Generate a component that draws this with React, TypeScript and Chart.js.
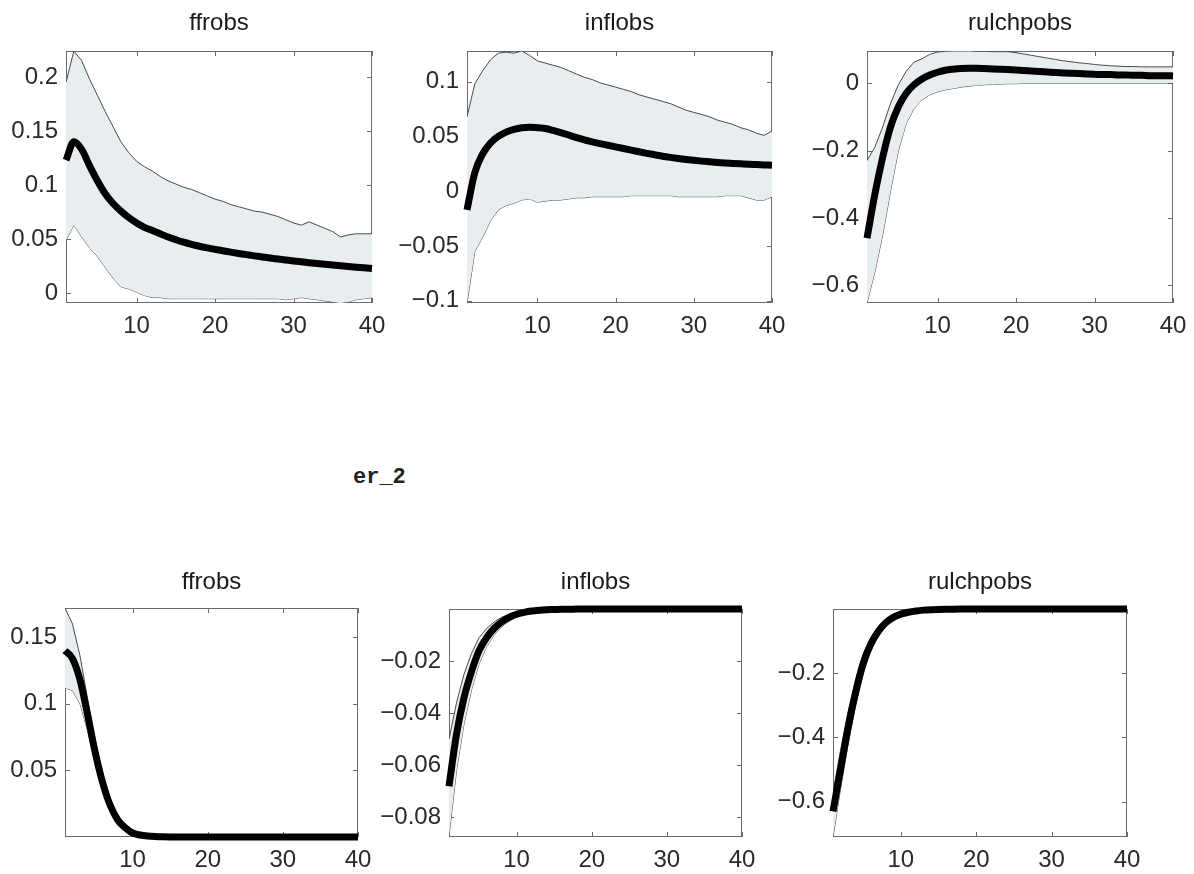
import React, { useEffect, useRef } from "react";
import { Chart, registerables } from "chart.js";

Chart.register(...registerables);

// ---------- data ----------
const periods = [1, 2, 3, 4, 5, 6, 7, 8, 9, 10, 11, 12, 13, 14, 15, 16, 17, 18, 19, 20, 21, 22, 23, 24, 25, 26, 27, 28, 29, 30, 31, 32, 33, 34, 35, 36, 37, 38, 39, 40];
const xTickValues = [10, 20, 30, 40];

// top row (regime 1)
const ffrobsMean1 = [0.123, 0.140, 0.133, 0.118, 0.104, 0.092, 0.083, 0.076, 0.070, 0.065, 0.061, 0.058, 0.055, 0.052, 0.0495, 0.0472, 0.0452, 0.0435, 0.042, 0.0406, 0.0393, 0.038, 0.0368, 0.0357, 0.0346, 0.0336, 0.0326, 0.0317, 0.0308, 0.0299, 0.0291, 0.0283, 0.0275, 0.0268, 0.0261, 0.0254, 0.0247, 0.0241, 0.0235, 0.0229];
const ffrobsUpper1 = [0.195, 0.224, 0.215, 0.198, 0.183, 0.168, 0.154, 0.140, 0.130, 0.122, 0.117, 0.113, 0.108, 0.104, 0.101, 0.098, 0.096, 0.093, 0.090, 0.087, 0.085, 0.082, 0.080, 0.078, 0.076, 0.075, 0.073, 0.071, 0.068, 0.065, 0.063, 0.066, 0.063, 0.060, 0.057, 0.052, 0.054, 0.055, 0.055, 0.055];
const ffrobsLower1 = [0.049, 0.063, 0.052, 0.042, 0.034, 0.024, 0.014, 0.006, 0.004, 0.001, -0.002, -0.004, -0.004, -0.005, -0.005, -0.005, -0.005, -0.005, -0.005, -0.005, -0.005, -0.005, -0.005, -0.005, -0.005, -0.005, -0.005, -0.005, -0.006, -0.005, -0.004, -0.005, -0.006, -0.007, -0.008, -0.009, -0.008, -0.006, -0.005, -0.004];

const inflobsMean1 = [-0.017, 0.017, 0.034, 0.044, 0.050, 0.054, 0.0565, 0.058, 0.0585, 0.058, 0.0572, 0.0555, 0.0535, 0.0513, 0.049, 0.0468, 0.0451, 0.0435, 0.042, 0.0405, 0.039, 0.0375, 0.036, 0.0346, 0.0333, 0.032, 0.0309, 0.0299, 0.029, 0.0282, 0.0275, 0.0269, 0.0263, 0.0258, 0.0254, 0.025, 0.0246, 0.0243, 0.024, 0.0237];
const inflobsUpper1 = [0.068, 0.098, 0.110, 0.120, 0.126, 0.127, 0.126, 0.128, 0.124, 0.119, 0.117, 0.115, 0.113, 0.110, 0.107, 0.104, 0.102, 0.099, 0.097, 0.095, 0.093, 0.091, 0.088, 0.086, 0.084, 0.082, 0.080, 0.077, 0.074, 0.072, 0.070, 0.068, 0.065, 0.063, 0.061, 0.058, 0.056, 0.053, 0.051, 0.055];
const inflobsLower1 = [-0.102, -0.055, -0.042, -0.027, -0.017, -0.013, -0.011, -0.008, -0.007, -0.010, -0.009, -0.008, -0.008, -0.007, -0.006, -0.006, -0.005, -0.005, -0.005, -0.005, -0.005, -0.004, -0.004, -0.004, -0.004, -0.004, -0.004, -0.005, -0.005, -0.005, -0.005, -0.005, -0.005, -0.004, -0.004, -0.004, -0.006, -0.008, -0.008, -0.005];

const rulchpobsMean1 = [-0.46, -0.33, -0.22, -0.13, -0.07, -0.03, -0.005, 0.012, 0.024, 0.032, 0.038, 0.041, 0.043, 0.044, 0.044, 0.043, 0.042, 0.041, 0.040, 0.039, 0.037, 0.036, 0.034, 0.033, 0.031, 0.030, 0.029, 0.028, 0.027, 0.026, 0.025, 0.025, 0.024, 0.024, 0.023, 0.023, 0.022, 0.022, 0.022, 0.021];
const rulchpobsUpper1 = [-0.23, -0.19, -0.13, -0.06, -0.005, 0.035, 0.062, 0.072, 0.085, 0.092, 0.094, 0.095, 0.095, 0.095, 0.094, 0.094, 0.093, 0.093, 0.093, 0.090, 0.086, 0.082, 0.078, 0.074, 0.070, 0.066, 0.063, 0.060, 0.058, 0.055, 0.053, 0.051, 0.050, 0.049, 0.049, 0.048, 0.048, 0.048, 0.048, 0.048];
const rulchpobsLower1 = [-0.652, -0.56, -0.45, -0.32, -0.2, -0.12, -0.075, -0.05, -0.035, -0.026, -0.02, -0.016, -0.012, -0.009, -0.007, -0.005, -0.004, -0.003, -0.002, -0.002, -0.001, 0, 0, 0, 0, 0, 0, 0, 0, 0, 0, 0, 0, 0, 0, 0, 0, 0, 0, 0];

// bottom row (regime 2)
const ffrobsMean2 = [0.140, 0.134, 0.118, 0.092, 0.064, 0.041, 0.024, 0.013, 0.007, 0.003, 0.0015, 0.0007, 0.0003, 0.0001, 0, 0, 0, 0, 0, 0, 0, 0, 0, 0, 0, 0, 0, 0, 0, 0, 0, 0, 0, 0, 0, 0, 0, 0, 0, 0];
const ffrobsUpper2 = [0.172, 0.160, 0.136, 0.104, 0.073, 0.048, 0.029, 0.016, 0.009, 0.004, 0.002, 0.001, 0.0004, 0.0002, 0.0001, 0, 0, 0, 0, 0, 0, 0, 0, 0, 0, 0, 0, 0, 0, 0, 0, 0, 0, 0, 0, 0, 0, 0, 0, 0];
const ffrobsLower2 = [0.112, 0.110, 0.100, 0.080, 0.056, 0.035, 0.020, 0.010, 0.005, 0.002, 0.001, 0.0004, 0.0002, 0.0001, 0, 0, 0, 0, 0, 0, 0, 0, 0, 0, 0, 0, 0, 0, 0, 0, 0, 0, 0, 0, 0, 0, 0, 0, 0, 0];

const inflobsMean2 = [-0.068, -0.048, -0.034, -0.024, -0.016, -0.011, -0.0075, -0.005, -0.0032, -0.002, -0.0013, -0.0008, -0.0005, -0.0003, -0.0002, -0.0001, -0.0001, 0, 0, 0, 0, 0, 0, 0, 0, 0, 0, 0, 0, 0, 0, 0, 0, 0, 0, 0, 0, 0, 0, 0];
const inflobsUpper2 = [-0.050, -0.036, -0.025, -0.017, -0.011, -0.0075, -0.005, -0.0032, -0.002, -0.0013, -0.0008, -0.0005, -0.0003, -0.0002, -0.0001, -0.0001, 0, 0, 0, 0, 0, 0, 0, 0, 0, 0, 0, 0, 0, 0, 0, 0, 0, 0, 0, 0, 0, 0, 0, 0];
const inflobsLower2 = [-0.087, -0.062, -0.044, -0.031, -0.021, -0.0145, -0.010, -0.0068, -0.0046, -0.0031, -0.0021, -0.0014, -0.0009, -0.0006, -0.0004, -0.0003, -0.0002, -0.0001, -0.0001, 0, 0, 0, 0, 0, 0, 0, 0, 0, 0, 0, 0, 0, 0, 0, 0, 0, 0, 0, 0, 0];

const rulchpobsMean2 = [-0.63, -0.50, -0.37, -0.26, -0.17, -0.11, -0.07, -0.043, -0.026, -0.016, -0.01, -0.006, -0.0035, -0.002, -0.0012, -0.0007, -0.0004, -0.0002, -0.0001, 0, 0, 0, 0, 0, 0, 0, 0, 0, 0, 0, 0, 0, 0, 0, 0, 0, 0, 0, 0, 0];
const rulchpobsUpper2 = [-0.57, -0.44, -0.32, -0.22, -0.14, -0.09, -0.056, -0.034, -0.02, -0.012, -0.007, -0.004, -0.0025, -0.0015, -0.0009, -0.0005, -0.0003, -0.0001, 0, 0, 0, 0, 0, 0, 0, 0, 0, 0, 0, 0, 0, 0, 0, 0, 0, 0, 0, 0, 0, 0];
const rulchpobsLower2 = [-0.71, -0.56, -0.42, -0.30, -0.20, -0.13, -0.085, -0.053, -0.033, -0.021, -0.013, -0.008, -0.005, -0.003, -0.0018, -0.0011, -0.0006, -0.0004, -0.0002, -0.0001, 0, 0, 0, 0, 0, 0, 0, 0, 0, 0, 0, 0, 0, 0, 0, 0, 0, 0, 0, 0];

const ffrobsTicks1 = [0, 0.05, 0.1, 0.15, 0.2];
const inflobsTicks1 = [-0.1, -0.05, 0, 0.05, 0.1];
const rulchpobsTicks1 = [-0.6, -0.4, -0.2, 0];
const ffrobsTicks2 = [0.05, 0.1, 0.15];
const inflobsTicks2 = [-0.08, -0.06, -0.04, -0.02];
const rulchpobsTicks2 = [-0.6, -0.4, -0.2];

const shockLabel = "er_2";

// ---------- layout / style ----------
const AXIS_W = 90;
const TOP_PAD = 50;
const RIGHT_PAD = 24;
const BOTTOM_H = 40;
const FONT = "'Liberation Sans', Arial, sans-serif";
const TICK_SIZE = 24;
const TITLE_SIZE = 24;
const BAND_FILL = "#e8edef";
const BAND_LINE = "#4a4a4a";

type Panel = {
  title: string;
  mean: number[];
  upper: number[];
  lower: number[];
  yMin: number;
  yMax: number;
  yTicks: number[];
  box: [number, number, number, number]; // left, top, right, bottom
  titleOffset: number;
};

const panels: Panel[] = [
  { title: "ffrobs", mean: ffrobsMean1, upper: ffrobsUpper1, lower: ffrobsLower1, yMin: -0.009, yMax: 0.224, yTicks: ffrobsTicks1, box: [66, 51, 372, 303], titleOffset: 28 },
  { title: "inflobs", mean: inflobsMean1, upper: inflobsUpper1, lower: inflobsLower1, yMin: -0.102, yMax: 0.128, yTicks: inflobsTicks1, box: [467, 51, 772, 303], titleOffset: 28 },
  { title: "rulchpobs", mean: rulchpobsMean1, upper: rulchpobsUpper1, lower: rulchpobsLower1, yMin: -0.652, yMax: 0.095, yTicks: rulchpobsTicks1, box: [867, 51, 1173, 303], titleOffset: 28 },
  { title: "ffrobs", mean: ffrobsMean2, upper: ffrobsUpper2, lower: ffrobsLower2, yMin: 0, yMax: 0.172, yTicks: ffrobsTicks2, box: [65, 608, 358, 837], titleOffset: 26 },
  { title: "inflobs", mean: inflobsMean2, upper: inflobsUpper2, lower: inflobsLower2, yMin: -0.0875, yMax: 0, yTicks: inflobsTicks2, box: [449, 609, 742, 837], titleOffset: 27 },
  { title: "rulchpobs", mean: rulchpobsMean2, upper: rulchpobsUpper2, lower: rulchpobsLower2, yMin: -0.71, yMax: 0, yTicks: rulchpobsTicks2, box: [833, 609, 1127, 837], titleOffset: 27 },
];

const fmt = (v: number) => {
  const r = Math.round(v * 10000) / 10000;
  return String(r).replace("-", "\u2212");
};

const framePlugin = {
  id: "matlabFrame",
  beforeDatasetsDraw(chart: any) {
    const { ctx, chartArea: a, scales } = chart;
    ctx.save();
    ctx.strokeStyle = "#6a6a6a";
    ctx.lineWidth = 1;
    ctx.strokeRect(a.left + 0.5, a.top + 0.5, a.right - a.left - 1, a.bottom - a.top - 1);
    const len = 5;
    ctx.beginPath();
    scales.x.ticks.forEach((t: any) => {
      const px = Math.round(scales.x.getPixelForValue(t.value)) + 0.5;
      ctx.moveTo(px, a.bottom);
      ctx.lineTo(px, a.bottom - len);
      ctx.moveTo(px, a.top);
      ctx.lineTo(px, a.top + len);
    });
    scales.y.ticks.forEach((t: any) => {
      const py = Math.round(scales.y.getPixelForValue(t.value)) + 0.5;
      ctx.moveTo(a.left, py);
      ctx.lineTo(a.left + len, py);
      ctx.moveTo(a.right, py);
      ctx.lineTo(a.right - len, py);
    });
    ctx.stroke();
    ctx.restore();
  },
  afterDraw(chart: any, _args: any, opts: any) {
    const { ctx, chartArea: a } = chart;
    ctx.save();
    ctx.font = `${TITLE_SIZE}px ${FONT}`;
    ctx.fillStyle = "#1a1a1a";
    ctx.textAlign = "center";
    ctx.textBaseline = "middle";
    ctx.fillText(opts.title, (a.left + a.right) / 2, a.top - opts.offset);
    ctx.restore();
  },
};

function PanelChart({ p }: { p: Panel }) {
  const ref = useRef<HTMLCanvasElement>(null);
  const [l, t, r, b] = p.box;
  const width = r - l + AXIS_W + RIGHT_PAD;
  const height = b - t + TOP_PAD + BOTTOM_H;

  useEffect(() => {
    if (!ref.current) return;
    const toPts = (arr: number[]) => periods.map((x, i) => ({ x, y: arr[i] }));
    const chart = new Chart(ref.current, {
      type: "line",
      data: {
        datasets: [
          { label: "mean", data: toPts(p.mean), borderColor: "#000", borderWidth: 7, fill: false, pointRadius: 0, cubicInterpolationMode: "monotone", clip: false as any },
          { label: "upper", data: toPts(p.upper), borderColor: BAND_LINE, borderWidth: 1, backgroundColor: BAND_FILL, fill: "+1", pointRadius: 0, tension: 0 },
          { label: "lower", data: toPts(p.lower), borderColor: BAND_LINE, borderWidth: 1, fill: false, pointRadius: 0, tension: 0 },
        ],
      },
      options: {
        animation: false,
        responsive: false,
        devicePixelRatio: 1,
        events: [],
        layout: { padding: { top: TOP_PAD, right: RIGHT_PAD, left: 0, bottom: 0 } },
        plugins: {
          legend: { display: false },
          tooltip: { enabled: false },
          title: { display: false },
          matlabFrame: { title: p.title, offset: p.titleOffset },
        } as any,
        scales: {
          x: {
            type: "linear",
            min: 1,
            max: 40,
            grid: { display: false, drawTicks: false },
            border: { display: false },
            afterBuildTicks: (s: any) => { s.ticks = xTickValues.map((v) => ({ value: v })); },
            afterFit: (s: any) => { s.height = BOTTOM_H; },
            ticks: { autoSkip: false, maxRotation: 0, padding: 9, color: "#2a2a2a", font: { family: FONT, size: TICK_SIZE }, callback: (v: any) => fmt(Number(v)) },
          },
          y: {
            type: "linear",
            min: p.yMin,
            max: p.yMax,
            grid: { display: false, drawTicks: false },
            border: { display: false },
            afterBuildTicks: (s: any) => { s.ticks = p.yTicks.map((v) => ({ value: v })); },
            afterFit: (s: any) => { s.width = AXIS_W; },
            ticks: { autoSkip: false, padding: 8, color: "#2a2a2a", font: { family: FONT, size: TICK_SIZE }, callback: (v: any) => fmt(Number(v)) },
          },
        },
      },
      plugins: [framePlugin],
    });
    return () => chart.destroy();
  }, [p]);

  return (
    <canvas
      ref={ref}
      width={width}
      height={height}
      style={{ position: "absolute", left: l - AXIS_W, top: t - TOP_PAD, width, height }}
    />
  );
}

export default function App() {
  return (
    <div style={{ position: "absolute", left: 0, top: 0, width: 1194, height: 874, background: "#fff", overflow: "hidden" }}>
      {panels.map((p, i) => (
        <PanelChart key={i} p={p} />
      ))}
      <div
        style={{
          position: "absolute",
          left: 353,
          top: 467,
          fontFamily: "'Liberation Mono', 'Courier New', monospace",
          fontSize: 22,
          fontWeight: "bold",
          lineHeight: "22px",
          color: "#222",
          whiteSpace: "pre",
        }}
      >
        {shockLabel}
      </div>
    </div>
  );
}
